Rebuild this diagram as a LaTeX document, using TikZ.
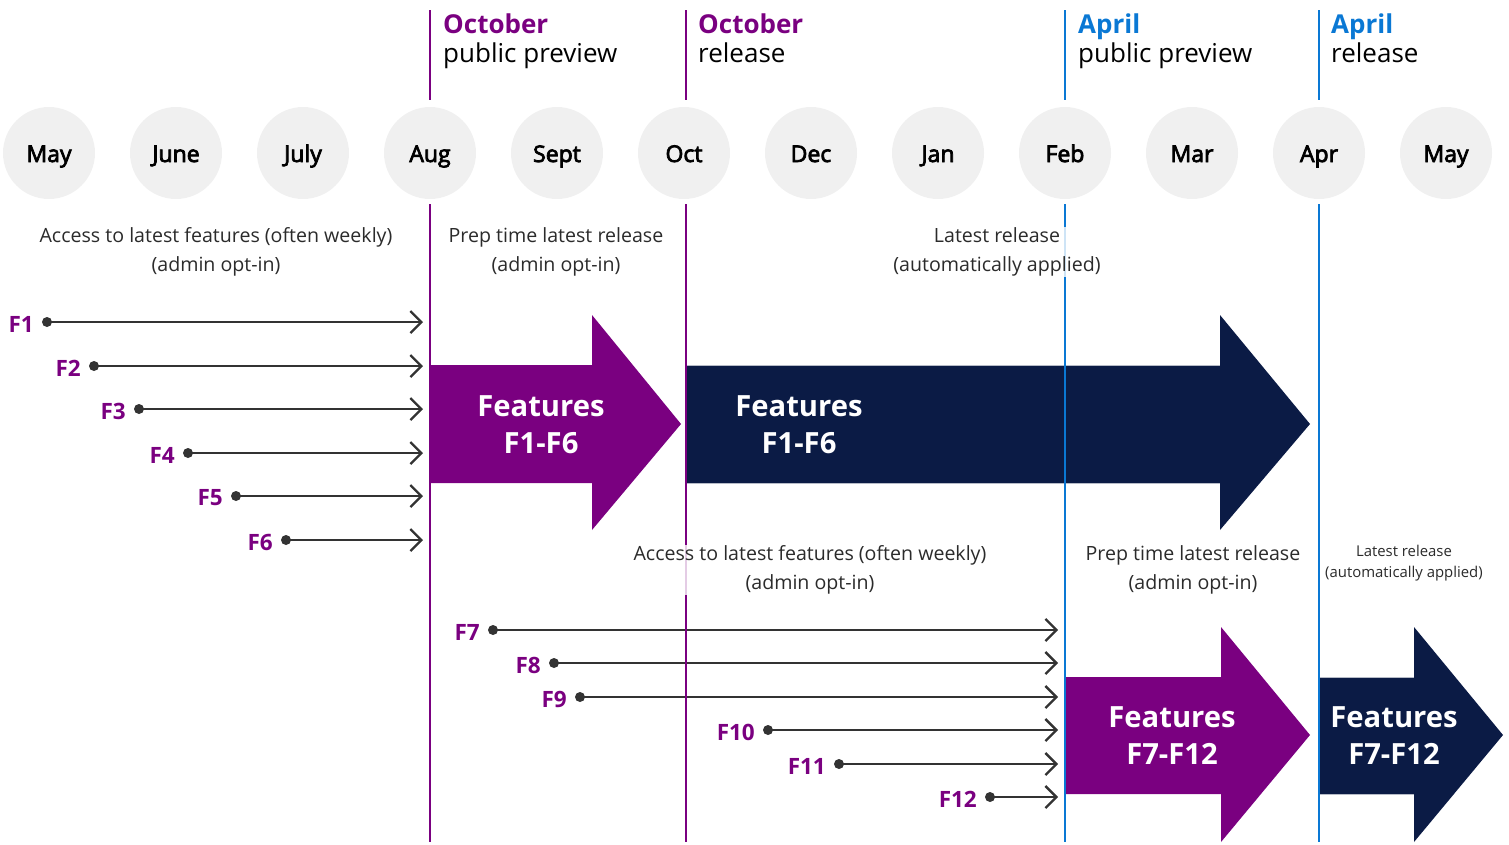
\documentclass[tikz,border=0pt]{standalone}
\usepackage{fontspec}
\setmainfont{Open Sans}
\newcommand\semitxt[1]{\special{pdf:literal direct 2 Tr 0.75 w}#1\special{pdf:literal direct 0 Tr}}
\usetikzlibrary{arrows.meta}
\definecolor{mspurple}{HTML}{7A0080}
\definecolor{msnavy}{HTML}{0B1B45}
\definecolor{msblue}{HTML}{0A78D4}
\definecolor{circgray}{HTML}{F0F0F0}
\definecolor{txtgray}{HTML}{2B2B2B}
\definecolor{linegray}{HTML}{333333}
\tikzset{
  month/.style={circle,fill=circgray,minimum size=92pt,inner sep=0pt,text height=18pt,text depth=0pt,font=\fontsize{23}{26}\selectfont,text=black},
  vline/.style={line width=2.5pt},
  dotnode/.style={circle,fill=linegray,minimum size=10pt,inner sep=0pt},
  farrow/.style={line width=2.3pt,draw=linegray,-{Straight Barb[length=11pt,width=22pt,line width=2.3pt]}},
  flabel/.style={anchor=east,font=\bfseries\fontsize{22.5}{26}\selectfont,text=mspurple,inner sep=0pt},
  note/.style={align=center,font=\fontsize{19.6}{29}\selectfont,text=txtgray,fill=white,fill opacity=0.8,text opacity=1,inner sep=1pt},
  smallnote/.style={align=center,font=\fontsize{14.9}{21}\selectfont,text=txtgray,fill=white,fill opacity=0.8,text opacity=1,inner sep=1pt},
  head/.style={anchor=north west,align=left,font=\fontsize{26}{29}\selectfont,inner sep=0pt},
  bigtext/.style={align=center,text=white,font=\bfseries\fontsize{29.2}{37}\selectfont},
}
\begin{document}
\begin{tikzpicture}[x=1pt,y=-1pt]
\useasboundingbox (0,0) rectangle (1509,844);
% months
\foreach \m [count=\i from 0] in {May,June,July,Aug,Sept,Oct,Dec,Jan,Feb,Mar,Apr,May}{
  \node[month] (m\i) at (49+127*\i,153) {\semitxt{\m}};
}
% feature dots and labels
\foreach \n/\x/\y in {1/47/322,2/94/366,3/139/409,4/188/453,5/236/496,6/286/540,7/493/630,8/554/663,9/580/697,10/768/730,11/839/764,12/990/797}{
  \node[dotnode] (d\n) at (\x,\y) {};
  \node[flabel] (l\n) at (\x-13,\y+2) {F\n};
}
\foreach \n in {1,...,6}{
  \coordinate (e\n) at (423,0 |- d\n);
  \draw[farrow] (d\n.center) -- (e\n);
}
\foreach \n in {7,...,12}{
  \coordinate (e\n) at (1058,0 |- d\n);
  \draw[farrow] (d\n.center) -- (e\n);
}
% big arrows
\fill[mspurple] (430,365) -- (592,365) -- (592,315) -- (681,424) -- (592,530) -- (592,483) -- (430,483) -- cycle;
\fill[msnavy] (686,365) -- (1220,365) -- (1220,315) -- (1310,424) -- (1220,530) -- (1220,483) -- (686,483) -- cycle;
\draw[white!70!msnavy,line width=0.6pt] (686,365) -- (1220,365) (686,483) -- (1220,483);
\fill[mspurple] (1066,677) -- (1221,677) -- (1221,627) -- (1310,735) -- (1221,842) -- (1221,794) -- (1066,794) -- cycle;
\fill[msnavy] (1319,677) -- (1414,677) -- (1414,627) -- (1503,735) -- (1414,842) -- (1414,794) -- (1319,794) -- cycle;
\draw[white!70!msnavy,line width=0.6pt] (1319,677) -- (1414,677) (1319,794) -- (1414,794);
\node[bigtext] (a1) at (541,425) {Features\\F1-F6};
\node[bigtext] (a2) at (799,425) {Features\\F1-F6};
\node[bigtext] (a3) at (1172,736) {Features\\F7-F12};
\node[bigtext] (a4) at (1394,736) {Features\\F7-F12};
% vertical lines
\foreach \x/\c in {430/mspurple,686/mspurple,1065/msblue,1319/msblue}{
  \draw[vline,\c] (\x,10) -- (\x,100);
  \draw[vline,\c] (\x,204) -- (\x,842);
}
% headers
\node[head] (h1) at (443,14) {\textcolor{mspurple}{\bfseries October}\\public preview};
\node[head] (h2) at (698,14) {\textcolor{mspurple}{\bfseries October}\\release};
\node[head] (h3) at (1078,14) {\textcolor{msblue}{\bfseries April}\\public preview};
\node[head] (h4) at (1331,14) {\textcolor{msblue}{\bfseries April}\\release};
% notes
\node[note] (n1) at (216,252) {Access to latest features (often weekly)\\(admin opt-in)};
\node[note] (n2) at (556,252) {Prep time latest release\\(admin opt-in)};
\node[note] (n3) at (997,252) {Latest release\\(automatically applied)};
\node[note] (n4) at (810,570) {Access to latest features (often weekly)\\(admin opt-in)};
\node[note] (n5) at (1193,570) {Prep time latest release\\(admin opt-in)};
\node[smallnote] (n6) at (1404,563) {Latest release\\(automatically applied)};
\end{tikzpicture}
\end{document}
